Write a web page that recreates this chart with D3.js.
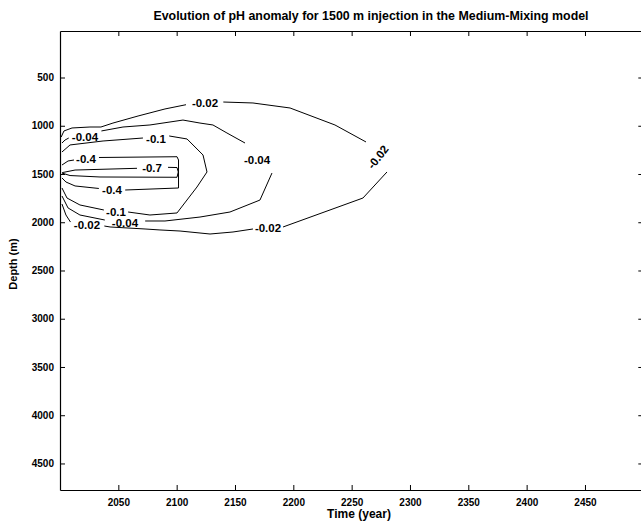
<!DOCTYPE html>
<html>
<head>
<meta charset="utf-8">
<script src="https://cdn.jsdelivr.net/npm/d3@7"></script>
<style>
  body { margin: 0; background: #fff; }
  svg { display: block; font-family: "Liberation Sans", Arial, sans-serif; }
  .domain { stroke: #000; }
  .tick line { stroke: #000; }
</style>
</head>
<body>
<svg id="chart" width="641" height="524"></svg>
<script>
// axis ticks
var xTicks = [2050, 2100, 2150, 2200, 2250, 2300, 2350, 2400, 2450];
var yTicks = [500, 1000, 1500, 2000, 2500, 3000, 3500, 4000, 4500];

// contour polylines, [year, depth] ; each level broken where its labels sit
var level002 = [
  [[2001,1117],[2003.4,1054],[2010.3,1023],[2025.7,1013],[2035.1,1013],[2045.4,972],[2066.9,899],[2090,826],[2108,782]],
  [[2140,754],[2165.4,764],[2197.2,816],[2235.7,992],[2262.3,1168]],
  [[2280.3,1479],[2259.7,1749],[2191.2,2049]],
  [[2165.4,2070],[2148.3,2101],[2128.6,2122],[2102.9,2091],[2085.7,2080],[2072.9,2070],[2042.9,2049],[2038,2039]],
  [[2009,1998],[2005.1,1925],[2001.7,1811]]
];
var level004 = [
  [[2001.7,1179],[2004.3,1148],[2007.5,1127]],
  [[2035.5,1054],[2054,1013],[2077.1,992],[2105.4,941],[2120,972],[2131.1,992],[2143.1,1075],[2158.6,1179]],
  [[2181.7,1490],[2171.4,1770],[2145.7,1894],[2120,1946],[2090,1987],[2073,1987]],
  [[2038.4,1977],[2017.1,1925],[2006.9,1852],[2001.7,1728]]
];
var level01 = [
  [[2001.7,1272],[2008.6,1199],[2036.9,1158],[2071.1,1127]],
  [[2093.6,1106],[2108.9,1137],[2122.6,1303],[2126,1479],[2117.4,1635],[2100.3,1904],[2077.1,1925],[2058.4,1894]],
  [[2037.6,1873],[2017.1,1821],[2006,1749],[2001.7,1645]]
];
var level04 = [
  [[2001.7,1407],[2006.9,1365],[2012,1355]],
  [[2033.4,1329],[2100.3,1321],[2101.6,1355],[2101.6,1645],[2055.9,1666]],
  [[2033.3,1650],[2012.9,1624],[2005.1,1583],[2001.7,1541]]
];
var level07 = [
  [[2066,1441],[2012.9,1459],[2002.6,1484],[2001.7,1490],[2008.6,1516],[2034.3,1531],[2100.3,1534],[2101.4,1479],[2100.3,1433],[2092.6,1431]]
];

// contour labels: text, year, depth
var labelText  = ["-0.02", "-0.02", "-0.02", "-0.02", "-0.04", "-0.04", "-0.04", "-0.1", "-0.1", "-0.4", "-0.4", "-0.7"];
var labelYear  = [2124.3, 2272.6, 2178.3, 2023.1, 2021.4, 2168.9, 2055.7, 2082.3, 2048, 2022.3, 2044.6, 2078.9];
var labelDepth = [764, 1324, 2060, 2029, 1117, 1355, 2008, 1137, 1894, 1345, 1661, 1438];

var plotLeft = 60, plotRight = 643.3, plotTop = 31, plotBottom = 490;

var svg = d3.select("#chart");

var x = d3.scaleLinear().domain([2000, 2500]).range([plotLeft, plotRight]);
var y = d3.scaleLinear().domain([18, 4775]).range([plotTop, plotBottom]);

svg.append("text")
  .attr("x", 371)
  .attr("y", 20)
  .attr("text-anchor", "middle")
  .style("font-size", "12.4px")
  .style("font-weight", "bold")
  .text("Evolution of pH anomaly for 1500 m injection in the Medium-Mixing model");

svg.append("g")
  .attr("transform", "translate(0," + plotBottom + ")")
  .call(d3.axisBottom(x).tickValues(xTicks).tickFormat(d3.format("d")).tickSizeInner(-5).tickSizeOuter(0).tickPadding(9))
  .call(function(g) { g.selectAll("text").style("font-size", "10px").style("font-weight", "bold").attr("fill", "#000"); });

svg.append("g")
  .attr("transform", "translate(" + plotLeft + ",0)")
  .call(d3.axisLeft(y).tickValues(yTicks).tickFormat(d3.format("d")).tickSizeInner(-5).tickSizeOuter(0).tickPadding(6))
  .call(function(g) { g.selectAll("text").style("font-size", "10px").style("font-weight", "bold").attr("fill", "#000"); });

svg.append("g")
  .attr("transform", "translate(0," + plotTop + ")")
  .call(d3.axisTop(x).tickValues(xTicks).tickFormat("").tickSizeInner(-5).tickSizeOuter(0));

svg.append("g")
  .attr("transform", "translate(" + plotRight + ",0)")
  .call(d3.axisRight(y).tickValues(yTicks).tickFormat("").tickSizeInner(-5).tickSizeOuter(0));

svg.selectAll(".domain").attr("stroke-width", 1.2);

svg.append("text")
  .attr("x", 359)
  .attr("y", 518)
  .attr("text-anchor", "middle")
  .style("font-size", "12px")
  .style("font-weight", "bold")
  .text("Time (year)");

svg.append("text")
  .attr("transform", "translate(17," + 264 + ") rotate(-90)")
  .attr("text-anchor", "middle")
  .style("font-size", "11px")
  .style("font-weight", "bold")
  .text("Depth (m)");

var line = d3.line()
  .x(function(d) { return x(d[0]); })
  .y(function(d) { return y(d[1]); });

var segments = [].concat(level002, level004, level01, level04, level07);

svg.append("g")
  .selectAll("path")
  .data(segments)
  .enter().append("path")
  .attr("d", line)
  .attr("fill", "none")
  .attr("stroke", "#000")
  .attr("stroke-width", 1);

var labelAngle = { 1: -52 };

svg.append("g")
  .selectAll("text")
  .data(labelText)
  .enter().append("text")
  .attr("transform", function(d, i) {
    return "translate(" + x(labelYear[i]) + "," + y(labelDepth[i]) + ") rotate(" + (labelAngle[i] || 0) + ")";
  })
  .attr("text-anchor", "middle")
  .attr("dy", "0.35em")
  .style("font-size", "11.5px")
  .style("font-weight", "bold")
  .text(function(d) { return d; });
</script>
</body>
</html>
